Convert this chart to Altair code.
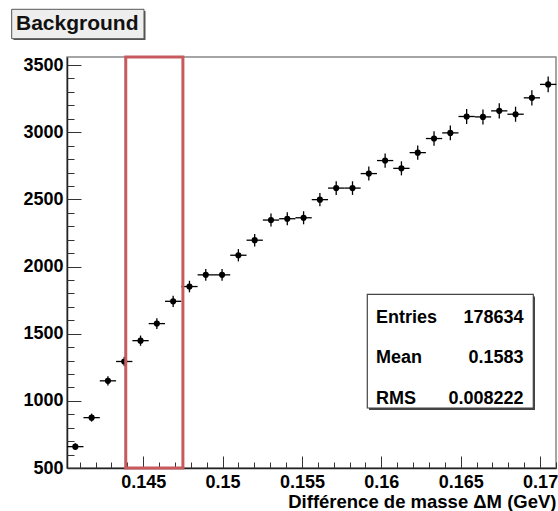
import altair as alt
import pandas as pd

# ---- data ----
bin_centers = [0.140724, 0.141751, 0.142778, 0.143805, 0.144832, 0.145859, 0.146886,
               0.147913, 0.148940, 0.149967, 0.150994, 0.152021, 0.153048, 0.154075,
               0.155102, 0.156129, 0.157156, 0.158183, 0.159210, 0.160237, 0.161264,
               0.162291, 0.163318, 0.164345, 0.165372, 0.166399, 0.167426, 0.168453,
               0.169480, 0.170507]
counts = [659, 875, 1149, 1293, 1448, 1575, 1741, 1851, 1938, 1938,
          2084, 2196, 2346, 2356, 2363, 2498, 2584, 2584, 2692, 2789,
          2731, 2848, 2953, 2995, 3117, 3114, 3159, 3134, 3256, 3356]
errors = [25.7, 29.6, 33.9, 36.0, 38.1, 39.7, 41.7, 43.0, 44.0, 44.0,
          45.7, 46.9, 48.4, 48.5, 48.6, 50.0, 50.8, 50.8, 51.9, 52.8,
          52.3, 53.4, 54.3, 54.7, 55.8, 55.8, 56.2, 56.0, 57.1, 57.9]
bin_half_width = 0.000513

x_domain = [0.1402, 0.171]
y_domain = [500, 3560]
x_major = [0.145, 0.15, 0.155, 0.16, 0.165, 0.17]
x_minor = [0.141, 0.142, 0.143, 0.144, 0.146, 0.147, 0.148, 0.149, 0.151, 0.152,
           0.153, 0.154, 0.156, 0.157, 0.158, 0.159, 0.161, 0.162, 0.163, 0.164,
           0.166, 0.167, 0.168, 0.169, 0.171]
y_major = [500, 1000, 1500, 2000, 2500, 3000, 3500]
y_minor = [600, 700, 800, 900, 1100, 1200, 1300, 1400, 1600, 1700, 1800, 1900,
           2100, 2200, 2300, 2400, 2600, 2700, 2800, 2900, 3100, 3200, 3300, 3400]

window_x = [0.1439, 0.1475]

stat_names = ["Entries", "Mean", "RMS"]
stat_values = ["178634", "0.1583", "0.008222"]
stat_rows = [0, 1, 2]

title_text = "Background"
x_title = "Différence de masse ΔM (GeV)"

FONT = "Liberation Sans"
W, H = 489, 411

df = pd.DataFrame({"x": bin_centers, "y": counts, "err": errors})
df["xlo"] = df["x"] - bin_half_width
df["xhi"] = df["x"] + bin_half_width
df["ylo"] = df["y"] - df["err"]
df["yhi"] = df["y"] + df["err"]

xs = alt.Scale(domain=x_domain, nice=False, zero=False)
ys = alt.Scale(domain=y_domain, nice=False, zero=False)

ax_main = alt.Axis(orient="bottom", values=x_major, format="~g", ticks=False, tickSize=0,
                   grid=False, labelFont=FONT, labelFontWeight="bold", labelFontSize=18,
                   labelColor="black", labelPadding=5, domainColor="#222", domainWidth=1.5,
                   title=x_title, titleFont=FONT, titleFontWeight="bold", titleFontSize=18.5,
                   titleColor="black", titleAnchor="end", titleAlign="right",
                   titleBaseline="alphabetic", titleX=W, titleY=39, labelFlush=False)
ay_main = alt.Axis(orient="left", values=y_major, format="d", ticks=False, tickSize=0,
                   grid=False, labelFont=FONT, labelFontWeight="bold", labelFontSize=18,
                   labelColor="black", labelPadding=4, domainColor="#222", domainWidth=1.5,
                   title="", labelFlush=False)
ax_maj = alt.Axis(orient="bottom", values=x_major, offset=-12, tickSize=12, labels=False,
                  domain=False, grid=False, tickColor="#333", tickWidth=1, title="")
ay_maj = alt.Axis(orient="left", values=y_major, offset=-14, tickSize=14, labels=False,
                  domain=False, grid=False, tickColor="#333", tickWidth=1, title="")
ax_min = alt.Axis(orient="bottom", values=x_minor, offset=-6, tickSize=6, labels=False,
                  domain=False, grid=False, tickColor="#333", tickWidth=1, title="")
ay_min = alt.Axis(orient="left", values=y_minor, offset=-7, tickSize=7, labels=False,
                  domain=False, grid=False, tickColor="#333", tickWidth=1, title="")

base = alt.Chart(df)

hbar = base.mark_rule(color="black", strokeWidth=1.3).encode(
    x=alt.X("xlo:Q", scale=xs, axis=ax_main), x2="xhi:Q",
    y=alt.Y("y:Q", scale=ys, axis=ay_main))
vbar = base.mark_rule(color="black", strokeWidth=1.3).encode(
    x=alt.X("x:Q", scale=xs, axis=ax_maj),
    y=alt.Y("ylo:Q", scale=ys, axis=ay_maj), y2="yhi:Q")
pts = base.mark_circle(size=38, color="black", opacity=1).encode(
    x=alt.X("x:Q", scale=xs, axis=ax_min),
    y=alt.Y("y:Q", scale=ys, axis=ay_min))

win_df = pd.DataFrame({"x0": [window_x[0]], "x1": [window_x[1]],
                       "y0": [y_domain[0]], "y1": [y_domain[1]]})
red = alt.Chart(win_df).mark_rect(fillOpacity=0, stroke="#c85a5e", strokeWidth=3).encode(
    x=alt.X("x0:Q", scale=xs, axis=None), x2="x1:Q",
    y=alt.Y("y0:Q", scale=ys, axis=None), y2="y1:Q")

# stats box
one = pd.DataFrame({"k": [0]})
stat_shadow = alt.Chart(one).mark_rect(color="#444").encode(
    x=alt.value(302), x2=alt.value(468), y=alt.value(239.5), y2=alt.value(353))
stat_box = alt.Chart(one).mark_rect(fill="white", stroke="#444", strokeWidth=1.2).encode(
    x=alt.value(300.3), x2=alt.value(466.3), y=alt.value(237.3), y2=alt.value(351))
stat_df = pd.DataFrame({"name": stat_names, "val": stat_values, "row": stat_rows})
row_scale = alt.Scale(domain=[0, 2], range=[265.5, 347], nice=False, zero=False)
stat_names_layer = alt.Chart(stat_df).mark_text(
    font=FONT, fontWeight="bold", fontSize=18, align="left", baseline="alphabetic",
    color="black").encode(
    text="name:N", x=alt.value(309),
    y=alt.Y("row:Q", scale=row_scale, axis=None))
stat_vals_layer = alt.Chart(stat_df).mark_text(
    font=FONT, fontWeight="bold", fontSize=18, align="right", baseline="alphabetic",
    color="black").encode(
    text="val:N", x=alt.value(456.5),
    y=alt.Y("row:Q", scale=row_scale, axis=None))

# title box
title_shadow = alt.Chart(one).mark_rect(color="#555").encode(
    x=alt.value(-53.5), x2=alt.value(78.5), y=alt.value(-46), y2=alt.value(-17))
title_box = alt.Chart(one).mark_rect(fill="#eeeeee", stroke="#555", strokeWidth=1).encode(
    x=alt.value(-55.3), x2=alt.value(77), y=alt.value(-47.7), y2=alt.value(-18.3))
title_df = pd.DataFrame({"t": [title_text]})
title_layer = alt.Chart(title_df).mark_text(
    font=FONT, fontWeight="bold", fontSize=21, align="left", baseline="alphabetic",
    color="#111").encode(text="t:N", x=alt.value(-51), y=alt.value(-27))

chart = alt.layer(
    hbar, vbar, pts, red,
    stat_shadow, stat_box, stat_names_layer, stat_vals_layer,
    title_shadow, title_box, title_layer
).resolve_axis(x="independent", y="independent").resolve_scale(
    y="independent"
).properties(
    width=W, height=H,
    padding={"left": 67, "top": 57, "right": 2, "bottom": 43},
    autosize="none",
    background="white",
).configure_view(stroke="#888", strokeWidth=1.5)

chart.save("out.html", embed_options={"renderer": "svg", "actions": False})
